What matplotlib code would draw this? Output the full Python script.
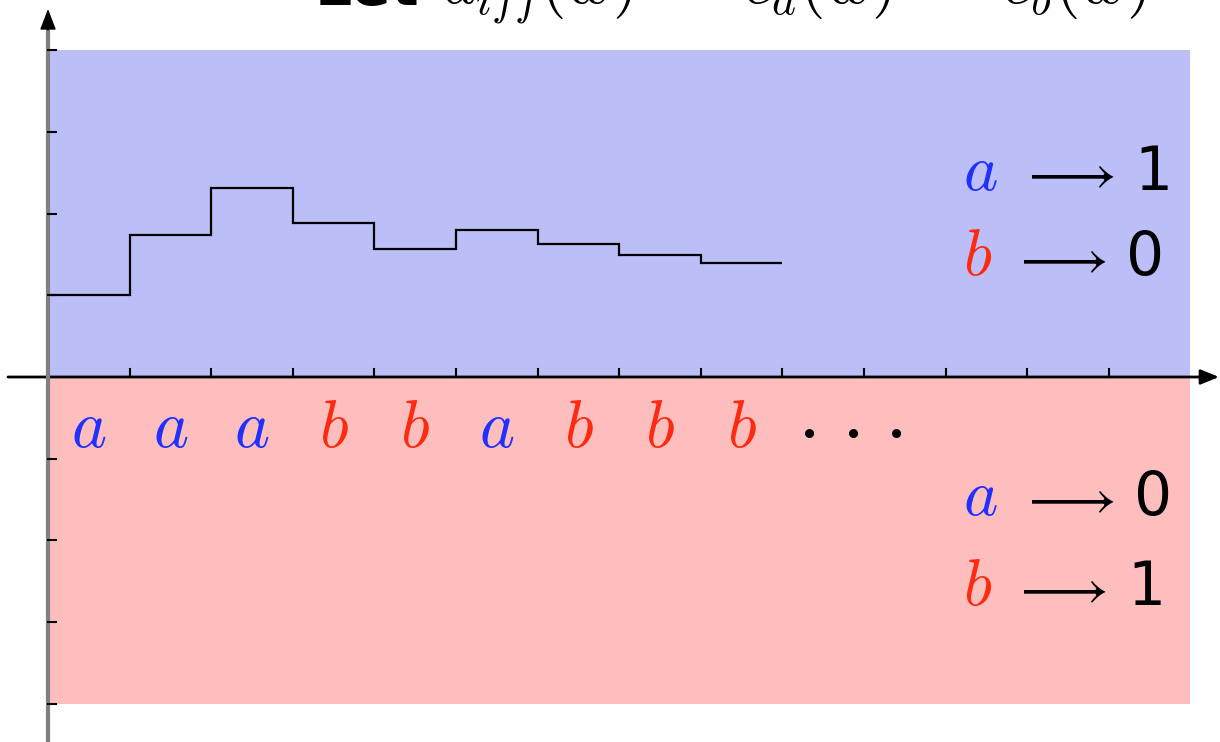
import matplotlib
matplotlib.use("Agg")
import matplotlib.pyplot as plt
from matplotlib.patches import Rectangle

plt.rcParams["mathtext.fontset"] = "cm"

# word read left to right and the running value after each letter
letters = ["a", "a", "a", "b", "b", "a", "b", "b", "b"]
running = [1.00, 1.74, 2.31, 1.88, 1.57, 1.80, 1.63, 1.49, 1.39]

x_ticks = list(range(1, 14))
y_ticks = [-4, -3, -2, -1, 1, 2, 3, 4]

# letter -> weight rules for the two halves
upper_rules = [("a", "1"), ("b", "0")]
lower_rules = [("a", "0"), ("b", "1")]

BLUE_TXT = "#2030ff"
RED_TXT = "#ff2a10"
letter_color = {"a": BLUE_TXT, "b": RED_TXT}

W, H = 1220, 742
fig = plt.figure(figsize=(W / 100, H / 100), dpi=100)
ax = fig.add_axes([0, 0, 1, 1])
ax.set_axis_off()

# pixel geometry: origin at (48, 377), one unit ~ 81.7 px
ox, oy, ux, uy = 48, 377, 81.6, 81.7


def dx(px):
    return (px - ox) / ux


def dy(py):
    return -(py - oy) / uy


ax.set_xlim(dx(0), dx(W))
ax.set_ylim(dy(H), dy(0))

# shaded halves
ax.add_patch(Rectangle((0, 0), 14, 4, facecolor="#bcbef8", edgecolor="none", zorder=0))
ax.add_patch(Rectangle((0, -4), 14, 4, facecolor="#ffbebe", edgecolor="none", zorder=0))

# running value as a staircase
edges = list(range(len(running) + 1))
ax.stairs(running, edges, baseline=None, color="black", lw=1.6, zorder=3)

# horizontal axis with arrowhead
ax.annotate("", xy=(dx(W - 1), 0), xytext=(dx(8), 0),
            arrowprops=dict(arrowstyle="-|>,head_length=1.1,head_width=0.45",
                            color="black", lw=2, shrinkA=0, shrinkB=0), zorder=4)
# vertical axis: grey shaft, black head
ax.plot([0, 0], [dy(H), dy(28)], color="#808080", lw=3, solid_capstyle="butt", zorder=4)
ax.annotate("", xy=(0, dy(9)), xytext=(0, dy(30)),
            arrowprops=dict(arrowstyle="-|>,head_length=1.3,head_width=0.5",
                            color="black", lw=1, shrinkA=0, shrinkB=0), zorder=4)

# tick marks
for t in x_ticks:
    ax.plot([t, t], [0, 8 / uy], color="black", lw=1.5, zorder=4)
for t in y_ticks:
    ax.plot([0, 8 / ux], [t, t], color="black", lw=1.5, zorder=4)

# letters of the word under the axis, then an ellipsis
for i, ch in enumerate(letters):
    ax.text(i + 0.5, dy(447), f"${ch}$", color=letter_color[ch], fontsize=48,
            ha="center", va="baseline", zorder=5)
for px in (806, 850, 893):
    ax.text(dx(px), dy(428), r"$\cdot$", color="black", fontsize=60,
            ha="center", va="center", zorder=5)

# rule labels on the right: letter, arrow, value
rows = [(upper_rules[0], 190, 1067, 1153), (upper_rules[1], 275, 1059, 1145),
        (lower_rules[0], 515, 1067, 1153), (lower_rules[1], 605, 1059, 1146)]
for (ch, val), py, arrow_cx, val_cx in rows:
    ax.text(dx(963), dy(py), f"${ch}$", color=letter_color[ch], fontsize=47,
            ha="left", va="baseline", zorder=5)
    ax.text(dx(arrow_cx), dy(py - 16), r"$\longrightarrow$", color="black",
            fontsize=40, ha="center", va="center", zorder=5)
    ax.text(dx(val_cx), dy(py), val, color="black", fontsize=43,
            family="DejaVu Sans", ha="center", va="baseline", zorder=5)

# heading, cut by the top edge
fig.text(315 / W, 1 - 5 / H, "Let", fontsize=42, fontweight="bold",
         family="DejaVu Sans", ha="left", va="baseline")
fig.text(442 / W, 1 - 3 / H, r"$d_{iff}(w)\;=\;c_a(w)\;-\;c_b(w)$",
         fontsize=47, ha="left", va="baseline")

fig.savefig("out.png", dpi=100)
